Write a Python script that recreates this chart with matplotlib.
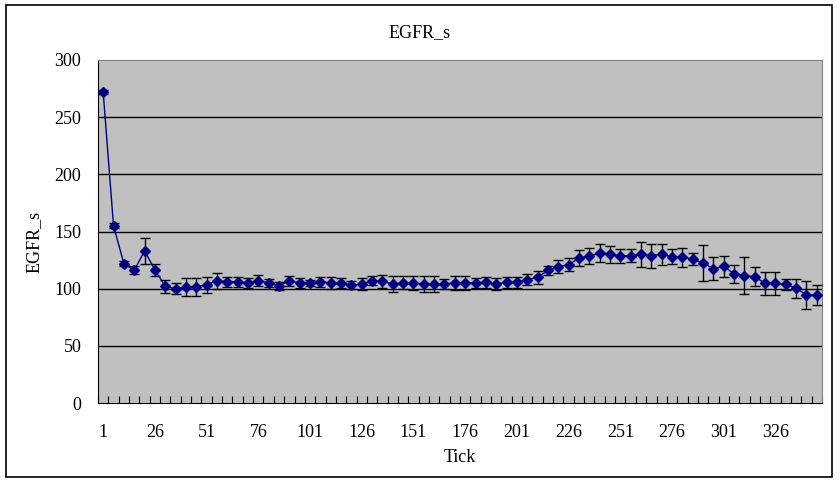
import matplotlib.pyplot as plt
from matplotlib.patches import Rectangle
import numpy as np

# data, one point every 5 ticks
ticks = list(range(1, 347, 5))
egfr = [272, 155, 122, 116, 133, 116.5, 102, 100, 101.5, 101.5,
        103.5, 107, 106, 106, 105, 107, 105, 102.5, 107, 105,
        105, 106, 105, 105, 103, 104, 107, 106.5, 104, 105,
        105, 104, 104, 104, 105, 105, 105, 105.5, 104, 105.5,
        105.5, 108, 110, 116, 119, 121, 126.7, 128.7, 131, 130,
        128.7, 128.7, 130, 129, 130, 127.8, 127.4, 126, 122.4, 117.5,
        119.5, 113, 111.5, 110.4, 104.6, 104.6, 103.8, 100.3, 94.5, 94.5]
err = [2, 2, 2, 3.5, 11, 5, 5.5, 5, 8, 8,
       7, 7, 4.5, 4.5, 4.5, 5, 3.5, 3.3, 4.5, 4.5,
       3, 4.3, 5.5, 4.7, 3.3, 5, 4, 5.7, 7, 5.7,
       6, 7, 7, 4.7, 6, 6, 4.7, 4.7, 5, 5,
       4.7, 4.6, 5.7, 4, 5.7, 5.7, 6.7, 7, 7.8, 7.6,
       6, 5.6, 10.8, 10.5, 9.2, 6.5, 8.2, 5, 15.4, 10.3,
       9.5, 7.9, 16, 8.3, 10, 9.8, 4.7, 8.3, 12, 9]
label_ticks = list(range(1, 327, 25))

font = ['Liberation Serif', 'DejaVu Serif']

fig = plt.figure(figsize=(8.4, 4.82), dpi=100)
fig.patches.append(Rectangle((6 / 840, 5 / 482), 826 / 840, 472 / 482,
                             transform=fig.transFigure, fill=False,
                             edgecolor='black', linewidth=1.2))
ax = fig.add_axes([98 / 840, 1 - 403 / 482, 724 / 840, 343 / 482])
ax.set_facecolor('#C0C0C0')

ax.errorbar(ticks, egfr, yerr=err, color='#000080', ecolor='black',
            elinewidth=1, capsize=3.5, capthick=1, linewidth=1,
            marker='D', markersize=5.5, markerfacecolor='#000080',
            markeredgecolor='#000080', zorder=3)

ax.set_xlim(-1.5, 348.5)
ax.set_ylim(0, 300)
ax.set_yticks(range(0, 301, 50))
for v in range(50, 300, 50):
    ax.axhline(v, color='black', linewidth=1, zorder=1)

# tick marks at category boundaries, labels at category centres
ax.set_xticks(np.arange(-1.5, 349, 5))
ax.set_xticklabels([])
ax.tick_params(axis='x', which='major', direction='in', length=5, color='black')
ax.set_xticks(label_ticks, minor=True)
ax.set_xticklabels([str(t) for t in label_ticks], minor=True, family=font, fontsize=13)
ax.tick_params(axis='x', which='minor', length=0, pad=15)
ax.tick_params(axis='y', length=0, pad=12, labelsize=13)
for lab in ax.get_yticklabels():
    lab.set_family(font)

for s in ['top', 'right']:
    ax.spines[s].set_color('#808080')
for s in ['left', 'bottom']:
    ax.spines[s].set_color('black')

ax.set_xlabel('Tick', family=font, fontsize=13, labelpad=6)
ax.set_ylabel('EGFR_s', family=font, fontsize=13)
ax.yaxis.set_label_coords(-0.077, 0.47)
fig.text(0.5, 1 - 33 / 482, 'EGFR_s', ha='center', va='center', family=font, fontsize=13)

fig.savefig('out.png', dpi=100)
